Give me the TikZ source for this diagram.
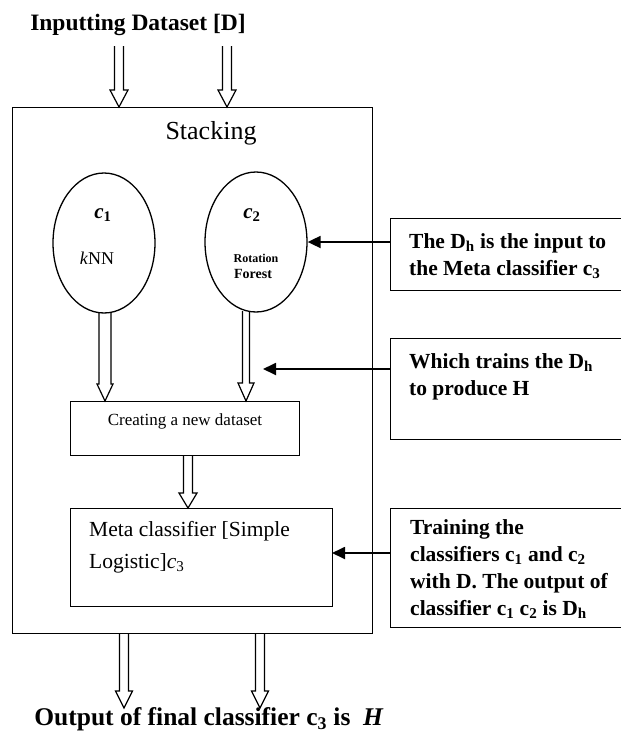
\documentclass[tikz,border=0pt]{standalone}
\usepackage{fontspec}
\setmainfont{Liberation Serif}
\usetikzlibrary{arrows.meta,shapes.geometric}
\newcommand\blockarrow[6]{%
  \draw[hollow] ({#1-#4},{#2}) -- ({#1-#4},{#3-#6}) -- ({#1-#5},{#3-#6}) -- ({#1},{#3})
    -- ({#1+#5},{#3-#6}) -- ({#1+#4},{#3-#6}) -- ({#1+#4},{#2});}
\begin{document}
\begin{tikzpicture}[x=1pt,y=-1pt,
  rect/.style={draw, line width=1.3pt, inner sep=0pt, anchor=north west},
  oval/.style={draw, ellipse, line width=1.3pt, inner sep=0pt, minimum width=102pt, minimum height=140pt},
  hollow/.style={line width=1.2pt, line join=miter},
  conn/.style={line width=1.8pt, -{Triangle[length=13pt,width=12pt]}},
  anno/.style={font=\bfseries\fontsize{21.5}{27}\selectfont, align=left, anchor=west, inner sep=0pt},
  plain/.style={inner sep=0pt}]
\useasboundingbox (0,0) rectangle (621,734);

% title
\node[plain, font=\bfseries\fontsize{23.5}{27}\selectfont] (title) at (138,25) {Inputting Dataset [D]};

% outer stacking box
\node[rect, minimum width=360pt, minimum height=526pt] (stack) at (12,107) {};
\node[plain, font=\fontsize{26}{30}\selectfont] (stklbl) at (211,133) {Stacking};

% classifiers
\node[oval] (c1) at (104,243) {};
\node[oval] (c2) at (256,242) {};
\node[plain, font=\fontsize{21}{24}\selectfont] (c1lbl) at (103,215) {\textbf{\textit{c}}\textsubscript{\textbf{1}}};
\node[plain, font=\fontsize{18}{22}\selectfont] (knn) at (97,258) {\textit{k}NN};
\node[plain, font=\fontsize{21}{24}\selectfont] (c2lbl) at (252,215) {\textbf{\textit{c}}\textsubscript{\textbf{2}}};
\node[plain, font=\bfseries\fontsize{12}{14}\selectfont] (rot) at (256,258) {Rotation};
\node[plain, font=\bfseries\fontsize{14}{16}\selectfont] (forest) at (253,274) {Forest};

% creating box
\node[rect, minimum width=229pt, minimum height=54pt] (create) at (70,401) {};
\node[plain, font=\fontsize{17}{20}\selectfont] (createlbl) at (185,421) {Creating a new dataset};

% meta box
\node[rect, minimum width=262pt, minimum height=98pt] (meta) at (70,508) {};
\node[plain, font=\fontsize{21.5}{32}\selectfont, align=left, anchor=west] (metalbl) at (89,547)
  {Meta classifier [Simple\\Logistic]\textit{c}\textsubscript{3}};

% annotation boxes
\node[rect, minimum width=233pt, minimum height=72pt] (ann1) at (390,218) {};
\node[anno] (ann1lbl) at (409,256) {The D\textsubscript{h} is the input to\\the Meta classifier c\textsubscript{3}};
\node[rect, minimum width=233pt, minimum height=101pt] (ann2) at (390,338) {};
\node[anno] (ann2lbl) at (409,377) {Which trains the D\textsubscript{h}\\to produce H};
\node[rect, minimum width=233pt, minimum height=119pt] (ann3) at (390,508) {};
\node[anno] (ann3lbl) at (410,569) {Training the\\classifiers c\textsubscript{1} and c\textsubscript{2}\\with D. The output of\\classifier c\textsubscript{1} c\textsubscript{2} is D\textsubscript{h}};

% output text
\node[plain, font=\bfseries\fontsize{25.5}{30}\selectfont] (outlbl) at (209,719) {Output of final classifier c\textsubscript{3} is \ \textit{H}};

% hollow block arrows
\blockarrow{119}{46}{107}{4.5}{9}{17}
\blockarrow{227}{46}{107}{4.5}{9}{17}
\blockarrow{105}{313}{401}{6}{8}{17}
\blockarrow{246}{311}{401}{3.5}{8}{18}
\blockarrow{188}{455}{508}{4.5}{9}{15}
\blockarrow{124}{633}{708}{4.5}{8.5}{17}
\blockarrow{260}{633}{708}{4.5}{8.5}{17}

% filled arrows
\coordinate (a2tip) at (263,369);
\coordinate (a3tip) at (332,553);
\draw[conn] (ann1.west |- c2.east) -- (c2.east);
\draw[conn] (ann2.west |- a2tip) -- (a2tip);
\draw[conn] (ann3.west |- a3tip) -- (a3tip);
\end{tikzpicture}
\end{document}
